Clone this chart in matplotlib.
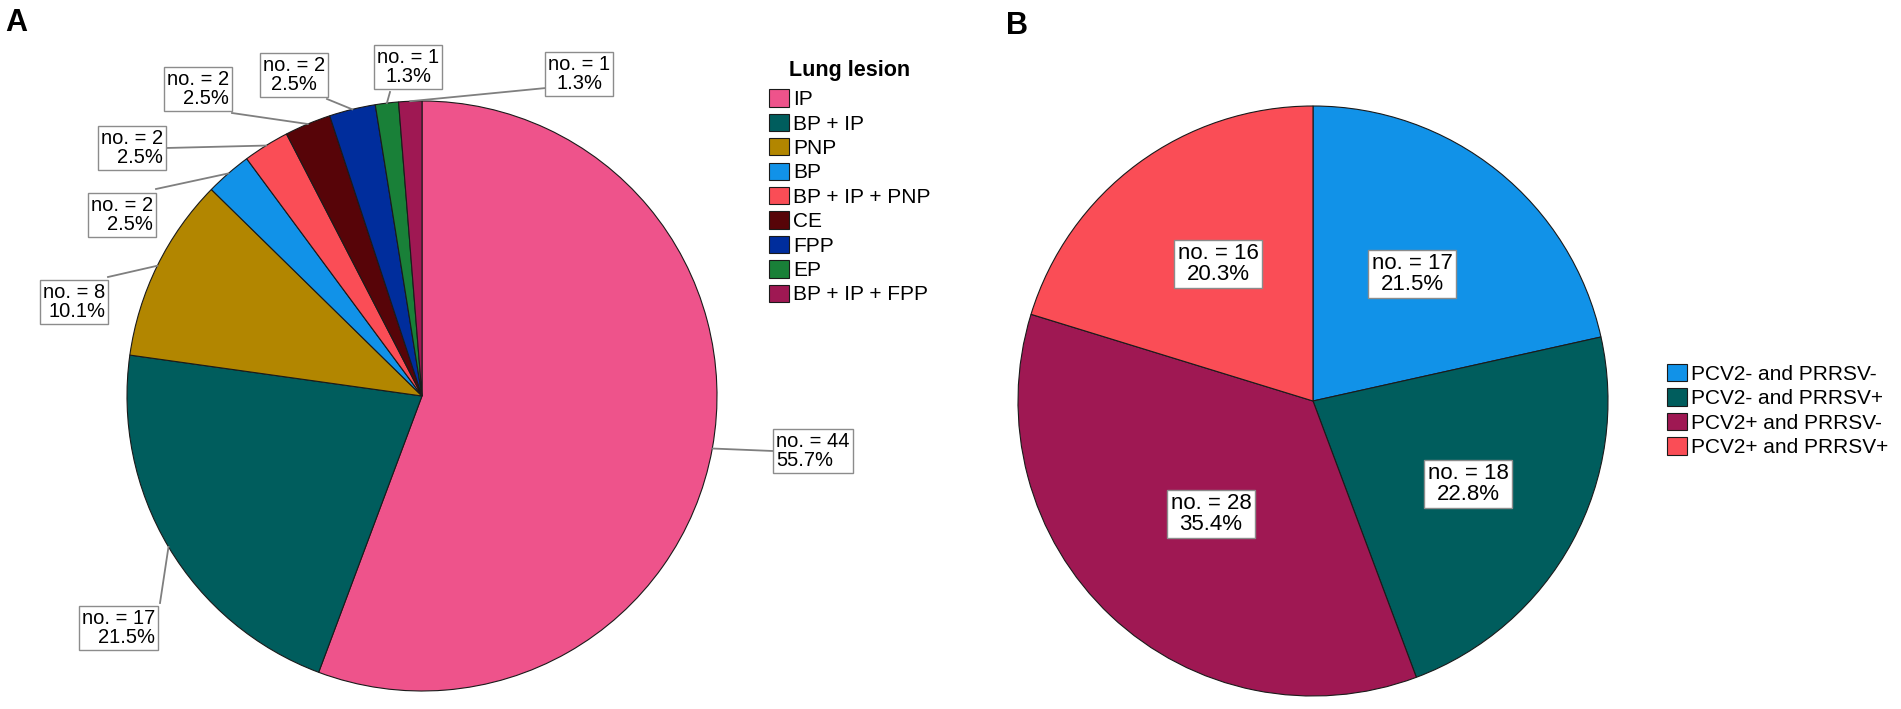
import matplotlib.pyplot as plt
import numpy as np

# %% data
lesions = ['IP', 'BP + IP', 'PNP', 'BP', 'BP + IP + PNP', 'CE', 'FPP', 'EP', 'BP + IP + FPP']
lesion_counts = [44, 17, 8, 2, 2, 2, 2, 1, 1]
lesion_colors = ['#ee538b', '#005d5d', '#b28600', '#1192e8', '#fa4d56',
                 '#570408', '#002d9c', '#198038', '#9f1853']

virus_groups = ['PCV2- and PRRSV-', 'PCV2- and PRRSV+', 'PCV2+ and PRRSV-', 'PCV2+ and PRRSV+']
virus_counts = [17, 18, 28, 16]
virus_colors = ['#1192e8', '#005d5d', '#9f1853', '#fa4d56']

# %% layout (pixels, y down)
W, H = 1901, 709
plt.rcParams['font.family'] = ['Liberation Sans', 'DejaVu Sans']

def label_text(n, total):
    return 'no. = %d\n%.1f%%' % (n, 100.0 * n / total)

fig = plt.figure(figsize=(W / 100, H / 100), dpi=100)
ax = fig.add_axes([0, 0, 1, 1])

R = 295
wedge_kw = dict(edgecolor='#1a1a1a', linewidth=0.8)
# y axis is flipped below, so startangle 270 + counterclock draws clockwise from 12 o'clock
wedgesA, _ = ax.pie(lesion_counts, colors=lesion_colors, center=(422, 396), radius=R,
                    startangle=270, counterclock=True, wedgeprops=wedge_kw)
wedgesB, _ = ax.pie(virus_counts, colors=virus_colors, center=(1313, 401), radius=R,
                    startangle=270, counterclock=True, wedgeprops=wedge_kw)
ax.set_xlim(0, W)
ax.set_ylim(H, 0)
ax.set_aspect('equal')
ax.axis('off')

box_kw = dict(boxstyle='square,pad=0.15', fc='white', ec='#8c8c8c', lw=1.0)

# outside labels of A: text anchor x, y, alignment, leader end x, y
a_pos = [(776, 451, 'left', 773, 451),
         (155, 628, 'right', 160, 603),
         (105, 302, 'right', 108, 277),
         (153, 215, 'right', 156, 189),
         (163, 148, 'right', 166, 148),
         (229, 89, 'right', 232, 113),
         (294, 75, 'center', 327, 99),
         (408, 67, 'center', 390, 92),
         (579, 74, 'center', 546, 88)]
totA = sum(lesion_counts)
for w, n, (tx, ty, ha, lx, ly) in zip(wedgesA, lesion_counts, a_pos):
    mid = np.deg2rad((w.theta1 + w.theta2) / 2)
    ex = w.center[0] + w.r * np.cos(mid)
    ey = w.center[1] + w.r * np.sin(mid)
    ax.plot([ex, lx], [ey, ly], color='#7f7f7f', lw=1.3, zorder=1)
    ax.text(tx, ty, label_text(n, totA), ha=ha, va='center', multialignment=ha,
            fontsize=14.5, linespacing=0.95, bbox=box_kw, zorder=5)

# inside labels of B
b_pos = [(1412, 274), (1468, 484), (1211, 514), (1218, 264)]
totB = sum(virus_counts)
for n, (tx, ty) in zip(virus_counts, b_pos):
    ax.text(tx, ty, label_text(n, totB), ha='center', va='center', multialignment='center',
            fontsize=16, linespacing=0.95, bbox=box_kw, zorder=5)

# panel letters
ax.text(5, 8, 'A', fontsize=22, fontweight='bold', va='top', ha='left')
ax.text(1006, 11, 'B', fontsize=22, fontweight='bold', va='top', ha='left')

# legends
leg_kw = dict(loc='upper left', fontsize=15, frameon=False, borderpad=0, borderaxespad=0,
              handlelength=0.95, handleheight=0.9, handletextpad=0.2, labelspacing=0.22)
legA = ax.legend(wedgesA, lesions, bbox_to_anchor=(769 / W, 1 - 60 / H),
                 title='Lung lesion', title_fontproperties={'weight': 'bold', 'size': 15.5},
                 **leg_kw)
legA._legend_box.sep = 6
ax.add_artist(legA)
ax.legend(wedgesB, virus_groups, bbox_to_anchor=(1667 / W, 1 - 364 / H), **leg_kw)

fig.savefig('out.png', dpi=100)
